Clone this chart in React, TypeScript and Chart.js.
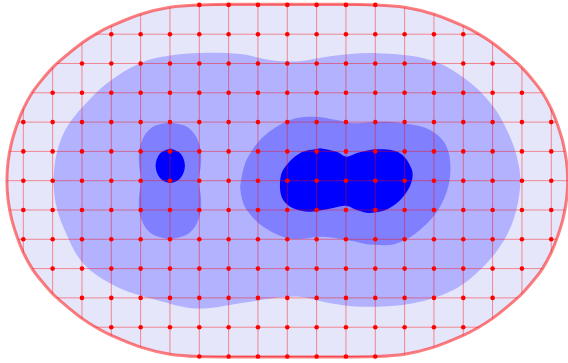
import { useEffect, useRef } from 'react';
import { Chart, registerables } from 'chart.js';

Chart.register(...registerables);

type UV = [number, number];

// Mesh coordinates (u across, v up)
const gridU = [-9, -8, -7, -6, -5, -4, -3, -2, -1, 0, 1, 2, 3, 4, 5, 6, 7, 8, 9];
const gridV = [-6, -5, -4, -3, -2, -1, 0, 1, 2, 3, 4, 5, 6];

// Mesh nodes: for each row v, nodes run from -halfSpan to +halfSpan
const nodeRowV = [6, 5, 4, 3, 2, 1, 0, -1, -2, -3, -4, -5, -6];
const nodeRowHalfSpan = [3, 6, 7, 8, 9, 9, 9, 9, 9, 8, 7, 6, 3];

// Outer boundary of the domain
const outerBoundary: UV[] = [
  [0, 6.02], [1.5, 6.02], [3.0, 6.0], [4.0, 5.92], [5.0, 5.68], [6.0, 5.28], [6.5, 5.02], [7.0, 4.7],
  [7.6, 4.22], [8.0, 3.86], [8.4, 3.4], [8.7, 3.0], [9.0, 2.45], [9.2, 1.95], [9.4, 1.3], [9.52, 0.65],
  [9.56, 0],
  [9.52, -0.65], [9.4, -1.3], [9.2, -1.95], [9.0, -2.45], [8.7, -3.0], [8.4, -3.4], [8.0, -3.86],
  [7.6, -4.22], [7.0, -4.7], [6.5, -5.02], [6.0, -5.28], [5.0, -5.68], [4.0, -5.92], [3.0, -6.0],
  [1.5, -6.02], [0, -6.02],
  [-1.5, -6.02], [-3.0, -6.0], [-4.0, -5.92], [-5.0, -5.68], [-6.0, -5.28], [-6.5, -5.02], [-7.0, -4.7],
  [-7.6, -4.22], [-8.0, -3.86], [-8.4, -3.4], [-8.7, -3.0], [-9.0, -2.45], [-9.2, -1.95], [-9.4, -1.3],
  [-9.52, -0.65], [-9.56, 0],
  [-9.52, 0.65], [-9.4, 1.3], [-9.2, 1.95], [-9.0, 2.45], [-8.7, 3.0], [-8.4, 3.4], [-8.0, 3.86],
  [-7.6, 4.22], [-7.0, 4.7], [-6.5, 5.02], [-6.0, 5.28], [-5.0, 5.68], [-4.0, 5.92], [-3.0, 6.0],
  [-1.5, 6.02], [0, 6.02],
];

// Filled contour bands, innermost last
const fillLevel2: UV[] = [
  [-7.98, 0], [-7.9, 0.75], [-7.68, 1.5], [-7.35, 2.07], [-6.9, 2.6], [-6.16, 3.32], [-5.02, 4.01],
  [-4.0, 4.27], [-2.97, 4.36], [-1.6, 4.32], [-0.5, 4.1], [0.43, 4.08], [1.46, 4.25], [3.05, 4.35],
  [4.87, 4.12], [6.12, 3.44], [7.02, 2.53], [7.59, 1.5], [7.88, 0.59], [7.94, -0.2], [7.71, -1.34],
  [7.25, -2.25], [6.57, -3.05], [5.66, -3.73], [4.3, -4.18], [2.59, -4.3], [1.46, -4.18], [0.43, -3.96],
  [-0.48, -4.01], [-1.61, -4.18], [-3.09, -4.36], [-4.45, -4.07], [-5.82, -3.62], [-6.96, -2.82],
  [-7.64, -1.57], [-7.9, -0.75], [-7.98, 0],
];

const fillLevel3Left: UV[] = [
  [-4.0, 1.99], [-3.56, 1.9], [-3.3, 1.75], [-3.08, 1.45], [-2.95, 1.0], [-2.95, 0.5], [-3.02, 0.0],
  [-2.95, -0.5], [-2.95, -1.0], [-3.08, -1.45], [-3.3, -1.75], [-3.56, -1.9], [-4.0, -1.99],
  [-4.44, -1.9], [-4.7, -1.75], [-4.92, -1.45], [-5.05, -1.0], [-5.05, -0.5], [-4.98, 0.0],
  [-5.05, 0.5], [-5.05, 1.0], [-4.92, 1.45], [-4.7, 1.75], [-4.44, 1.9], [-4.0, 1.99],
];

const fillLevel3Right: UV[] = [
  [-1.61, -0.2], [-1.52, 0.3], [-1.35, 0.78], [-0.82, 1.5], [0.09, 2.07], [0.89, 2.18], [1.68, 2.07],
  [2.25, 1.96], [3.16, 2.01], [3.95, 1.96], [4.87, 1.73], [5.43, 1.16], [5.55, 0.14], [5.21, -0.89],
  [4.52, -1.68], [3.73, -2.14], [2.93, -2.19], [2.03, -2.02], [1.23, -1.91], [0.09, -1.97], [-0.82, -1.57],
  [-1.38, -1.0], [-1.55, -0.6], [-1.61, -0.2],
];

const fillLevel4Left: UV[] = [
  [-3.99, 1.1], [-3.64, 0.93], [-3.49, 0.51], [-3.64, 0.09], [-3.99, -0.08], [-4.34, 0.09],
  [-4.49, 0.51], [-4.34, 0.93], [-3.99, 1.1],
];

const fillLevel4Right: UV[] = [
  [1.12, 1.11], [1.68, 0.99], [2.03, 0.82], [2.41, 0.95], [3.09, 1.07], [3.84, 0.94], [4.24, 0.4],
  [4.24, -0.03], [3.95, -0.55], [3.43, -0.97], [2.82, -1.1], [2.37, -1.0], [2.03, -0.86], [1.56, -0.93],
  [0.77, -1.06], [0.2, -0.94], [-0.14, -0.66], [-0.25, -0.2], [-0.14, 0.37], [0.43, 0.94], [1.12, 1.11],
];

const DOMAIN_COLOR = '#E6E6FA';
const LEVEL2_COLOR = 'rgb(178,178,255)';
const LEVEL3_COLOR = 'rgb(128,128,255)';
const LEVEL4_COLOR = 'rgb(0,0,255)';
const MESH_LINE_COLOR = 'rgba(255,0,0,0.42)';
const OUTLINE_COLOR = 'rgba(255,0,0,0.5)';

const DOMAIN_INDEX = 0;
const OUTLINE_INDEX = 6;

const toPoints = (loop: UV[]) => loop.map(([x, y]) => ({ x, y }));

function nodePoints() {
  const pts: { x: number; y: number }[] = [];
  nodeRowV.forEach((v, i) => {
    const h = nodeRowHalfSpan[i];
    gridU.forEach((u) => {
      if (Math.abs(u) <= h) pts.push({ x: u, y: v });
    });
  });
  return pts;
}

function band(loop: UV[], color: string, order: number) {
  return {
    data: toPoints(loop),
    showLine: true,
    fill: 'shape',
    backgroundColor: color,
    borderColor: 'rgba(0,0,0,0)',
    borderWidth: 1,
    pointRadius: 0,
    tension: 0.35,
    order,
  };
}

// Draws the mesh lines clipped to the domain, just before the outline is stroked
const meshPlugin = {
  id: 'meshLines',
  beforeDatasetDraw(chart: any, args: any) {
    if (args.index !== OUTLINE_INDEX) return;
    const domainLine = chart.getDatasetMeta(DOMAIN_INDEX).dataset;
    if (!domainLine) return;
    const { ctx, chartArea, scales } = chart;
    ctx.save();
    ctx.beginPath();
    domainLine.path(ctx);
    ctx.closePath();
    ctx.clip();
    ctx.strokeStyle = MESH_LINE_COLOR;
    ctx.lineWidth = 1;
    ctx.beginPath();
    for (const u of gridU) {
      const x = scales.x.getPixelForValue(u);
      ctx.moveTo(x, chartArea.top);
      ctx.lineTo(x, chartArea.bottom);
    }
    for (const v of gridV) {
      const y = scales.y.getPixelForValue(v);
      ctx.moveTo(chartArea.left, y);
      ctx.lineTo(chartArea.right, y);
    }
    ctx.stroke();
    ctx.restore();
  },
};

export default function App() {
  const canvasRef = useRef<HTMLCanvasElement | null>(null);

  useEffect(() => {
    if (!canvasRef.current) return;
    const chart = new Chart(canvasRef.current, {
      type: 'scatter',
      data: {
        datasets: [
          band(outerBoundary, DOMAIN_COLOR, 7),
          band(fillLevel2, LEVEL2_COLOR, 6),
          band(fillLevel3Left, LEVEL3_COLOR, 5),
          band(fillLevel3Right, LEVEL3_COLOR, 5),
          band(fillLevel4Left, LEVEL4_COLOR, 4),
          band(fillLevel4Right, LEVEL4_COLOR, 4),
          {
            data: toPoints(outerBoundary),
            showLine: true,
            fill: false,
            borderColor: OUTLINE_COLOR,
            borderWidth: 3,
            pointRadius: 0,
            tension: 0.35,
            order: 2,
          },
          {
            data: nodePoints(),
            showLine: false,
            pointRadius: 2.3,
            pointBackgroundColor: 'rgb(255,0,0)',
            pointBorderWidth: 0,
            pointBorderColor: 'rgb(255,0,0)',
            order: 1,
          },
        ] as any,
      },
      options: {
        animation: false,
        responsive: false,
        events: [],
        layout: { padding: 0, autoPadding: false },
        plugins: { legend: { display: false }, tooltip: { enabled: false } },
        scales: {
          x: { type: 'linear', min: -9.795, max: 9.571, display: false },
          y: { type: 'linear', min: -6.222, max: 6.167, display: false },
        },
      } as any,
      plugins: [meshPlugin],
    });
    return () => chart.destroy();
  }, []);

  return (
    <div style={{ position: 'fixed', left: 0, top: 0, width: 568, height: 363, background: '#fff' }}>
      <canvas ref={canvasRef} width={568} height={363} style={{ display: 'block' }} />
    </div>
  );
}
